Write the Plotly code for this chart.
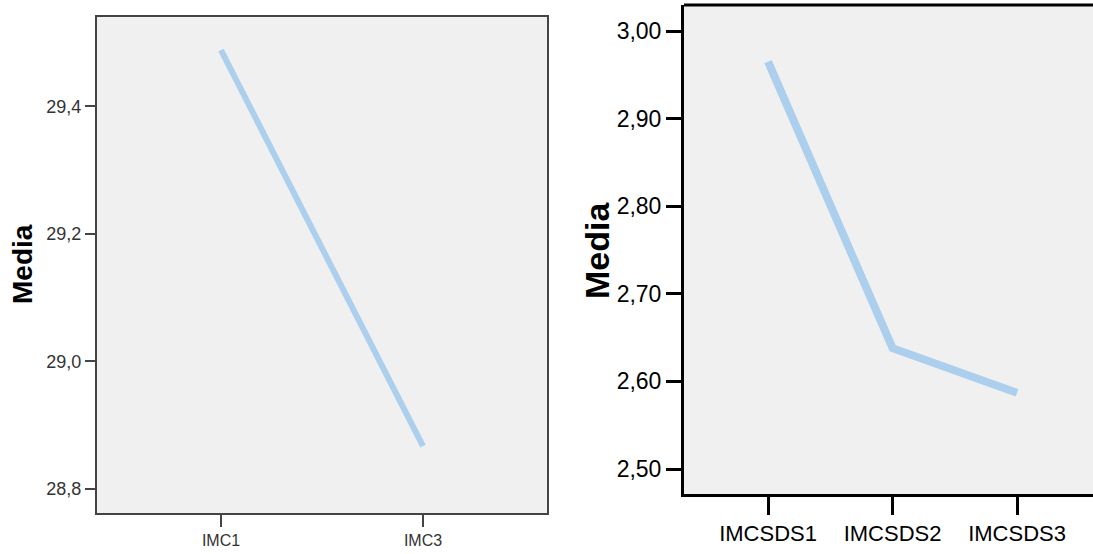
import plotly.graph_objects as go

# Left panel data
cats_left = ["IMC1", "IMC3"]
media_left = [29.488, 28.867]
ticks_left = [28.8, 29.0, 29.2, 29.4]

# Right panel data
cats_right = ["IMCSDS1", "IMCSDS2", "IMCSDS3"]
media_right = [2.965, 2.638, 2.587]
ticks_right = [2.50, 2.60, 2.70, 2.80, 2.90, 3.00]

W, H = 1093, 554
LINE_COLOR = "#abcfed"
FONT = "Liberation Sans, Arial, sans-serif"

fig = go.Figure()
fig.add_trace(go.Scatter(x=list(range(len(cats_left))), y=media_left, mode="lines",
                         line=dict(color=LINE_COLOR, width=6), xaxis="x", yaxis="y",
                         hoverinfo="skip", showlegend=False))
fig.add_trace(go.Scatter(x=list(range(len(cats_right))), y=media_right, mode="lines",
                         line=dict(color=LINE_COLOR, width=8), xaxis="x2", yaxis="y2",
                         hoverinfo="skip", showlegend=False))

fig.update_layout(
    width=W, height=H,
    margin=dict(l=0, r=0, t=0, b=0),
    paper_bgcolor="white",
    plot_bgcolor="#f0f0f0",
    separators=",.",
    showlegend=False,
    xaxis=dict(domain=[97 / W, 547 / W], range=[-0.614, 1.614],
               tickmode="array", tickvals=list(range(len(cats_left))), ticktext=cats_left,
               showgrid=False, zeroline=False, showline=True, mirror=True,
               linecolor="#444444", linewidth=2, ticks="outside", ticklen=12, tickwidth=2,
               tickcolor="#444444", tickfont=dict(family=FONT, size=16, color="#333333"),
               anchor="y", fixedrange=True),
    yaxis=dict(domain=[(H - 513) / H, (H - 17) / H], range=[28.762, 29.54],
               tickmode="array", tickvals=ticks_left, tickformat=".1f",
               showgrid=False, zeroline=False, showline=True, mirror=True,
               linecolor="#444444", linewidth=2, ticks="outside", ticklen=10, tickwidth=2,
               tickcolor="#444444", tickfont=dict(family=FONT, size=18, color="#333333"),
               anchor="x", fixedrange=True),
    xaxis2=dict(domain=[684 / W, 1.0], range=[-0.675, 2.61],
                tickmode="array", tickvals=list(range(len(cats_right))), ticktext=cats_right,
                showgrid=False, zeroline=False, showline=True, mirror=False,
                linecolor="black", linewidth=3, ticks="outside", ticklen=18, tickwidth=3,
                tickcolor="black", tickfont=dict(family=FONT, size=22, color="black"),
                anchor="y2", fixedrange=True),
    yaxis2=dict(domain=[(H - 494) / H, (H - 5) / H], range=[2.4715, 3.0297],
                tickmode="array", tickvals=ticks_right, tickformat=".2f",
                showgrid=False, zeroline=False, showline=True, mirror=False,
                linecolor="black", linewidth=3, ticks="outside", ticklen=15, tickwidth=3,
                tickcolor="black", tickfont=dict(family=FONT, size=23, color="black"),
                anchor="x2", fixedrange=True),
    shapes=[dict(type="line", xref="x2 domain", yref="y2 domain", x0=0, x1=1.01, y0=1, y1=1,
                 line=dict(color="black", width=3))],
    annotations=[
        dict(text="<b>Media</b>", x=22 / W, y=(H - 264) / H, xref="paper", yref="paper",
             showarrow=False, textangle=-90, xanchor="center", yanchor="middle",
             font=dict(family=FONT, size=28, color="black")),
        dict(text="<b>Media</b>", x=597 / W, y=(H - 250) / H, xref="paper", yref="paper",
             showarrow=False, textangle=-90, xanchor="center", yanchor="middle",
             font=dict(family=FONT, size=34, color="black")),
    ],
)

fig.write_html("out.html", config={"displayModeBar": False},
               post_script="document.body.style.margin='0';document.body.style.overflow='hidden';")
